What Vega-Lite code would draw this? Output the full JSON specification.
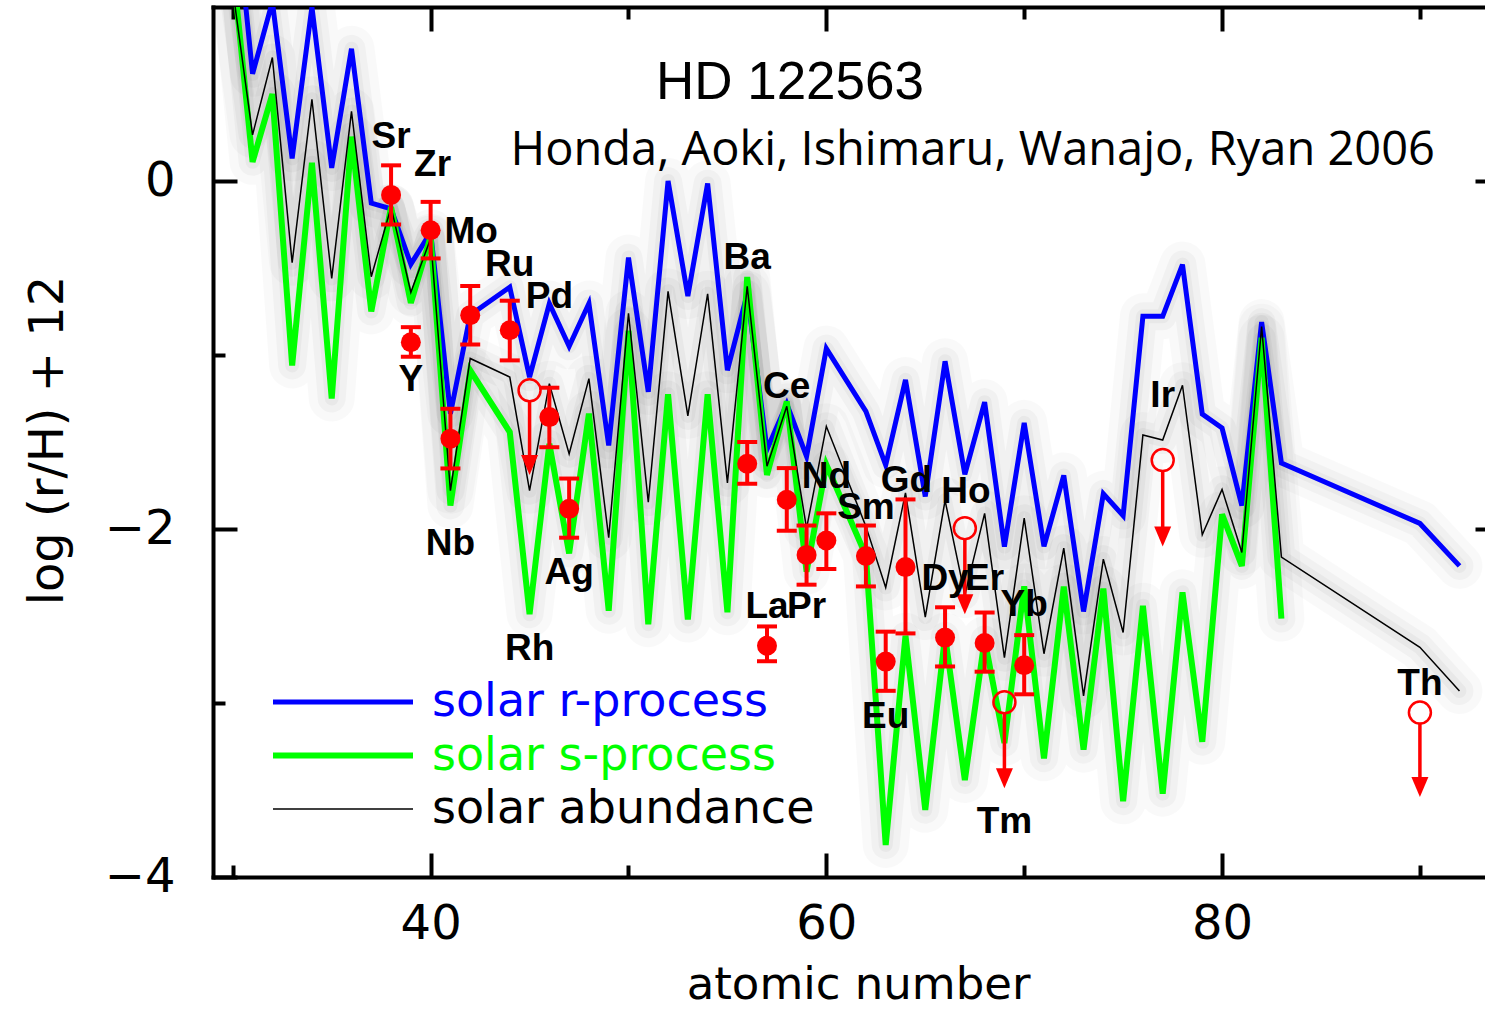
{
  "$schema": "https://vega.github.io/schema/vega-lite/v6.json",
  "width": 1272,
  "height": 870,
  "autosize": {"type": "none"},
  "padding": {"left": 213, "top": 7, "right": 0, "bottom": 134},
  "background": "white",
  "config": {
    "view": {"stroke": null},
    "axis": {"grid": false, "domainColor": "black", "tickColor": "black", "labelColor": "black", "titleColor": "black", "labelFont": "DejaVu Sans", "titleFont": "DejaVu Sans", "titleFontWeight": "normal", "tickWidth": 4, "domainWidth": 4, "domainCap": "square", "labelFlush": false, "labelOverlap": false, "zindex": 1}
  },
  "datasets": {
    "solar": [
      {"s": "solar r-process", "Z": 30, "v": 1.74}, {"s": "solar r-process", "Z": 31, "v": 0.616}, {"s": "solar r-process", "Z": 32, "v": 1.03}, {"s": "solar r-process", "Z": 33, "v": 0.13}, {"s": "solar r-process", "Z": 34, "v": 1.0}, {"s": "solar r-process", "Z": 35, "v": 0.075}, {"s": "solar r-process", "Z": 36, "v": 0.76}, {"s": "solar r-process", "Z": 37, "v": -0.127}, {"s": "solar r-process", "Z": 38, "v": -0.16}, {"s": "solar r-process", "Z": 39, "v": -0.478}, {"s": "solar r-process", "Z": 40, "v": -0.294},
      {"s": "solar r-process", "Z": 41, "v": -1.337}, {"s": "solar r-process", "Z": 42, "v": -0.77}, {"s": "solar r-process", "Z": 44, "v": -0.61}, {"s": "solar r-process", "Z": 45, "v": -1.127}, {"s": "solar r-process", "Z": 46, "v": -0.704}, {"s": "solar r-process", "Z": 47, "v": -0.95}, {"s": "solar r-process", "Z": 48, "v": -0.704}, {"s": "solar r-process", "Z": 49, "v": -1.52}, {"s": "solar r-process", "Z": 50, "v": -0.44},
      {"s": "solar r-process", "Z": 51, "v": -1.212}, {"s": "solar r-process", "Z": 52, "v": 0.0}, {"s": "solar r-process", "Z": 53, "v": -0.661}, {"s": "solar r-process", "Z": 54, "v": -0.014}, {"s": "solar r-process", "Z": 55, "v": -1.088}, {"s": "solar r-process", "Z": 56, "v": -0.648}, {"s": "solar r-process", "Z": 57, "v": -1.543}, {"s": "solar r-process", "Z": 58, "v": -1.281}, {"s": "solar r-process", "Z": 59, "v": -1.583}, {"s": "solar r-process", "Z": 60, "v": -0.963},
      {"s": "solar r-process", "Z": 62, "v": -1.324}, {"s": "solar r-process", "Z": 63, "v": -1.633}, {"s": "solar r-process", "Z": 64, "v": -1.143}, {"s": "solar r-process", "Z": 65, "v": -1.813}, {"s": "solar r-process", "Z": 66, "v": -1.036}, {"s": "solar r-process", "Z": 67, "v": -1.686}, {"s": "solar r-process", "Z": 68, "v": -1.271}, {"s": "solar r-process", "Z": 69, "v": -2.101}, {"s": "solar r-process", "Z": 70, "v": -1.39},
      {"s": "solar r-process", "Z": 71, "v": -2.1}, {"s": "solar r-process", "Z": 72, "v": -1.692}, {"s": "solar r-process", "Z": 73, "v": -2.474}, {"s": "solar r-process", "Z": 74, "v": -1.798}, {"s": "solar r-process", "Z": 75, "v": -1.923}, {"s": "solar r-process", "Z": 76, "v": -0.778}, {"s": "solar r-process", "Z": 77, "v": -0.778}, {"s": "solar r-process", "Z": 78, "v": -0.48}, {"s": "solar r-process", "Z": 79, "v": -1.34}, {"s": "solar r-process", "Z": 80, "v": -1.42},
      {"s": "solar r-process", "Z": 81, "v": -1.865}, {"s": "solar r-process", "Z": 82, "v": -0.811}, {"s": "solar r-process", "Z": 83, "v": -1.621}, {"s": "solar r-process", "Z": 90, "v": -1.968}, {"s": "solar r-process", "Z": 92, "v": -2.212},

      {"s": "solar s-process", "Z": 30, "v": 1.235}, {"s": "solar s-process", "Z": 31, "v": 0.11}, {"s": "solar s-process", "Z": 32, "v": 0.5}, {"s": "solar s-process", "Z": 33, "v": -1.06}, {"s": "solar s-process", "Z": 34, "v": 0.105}, {"s": "solar s-process", "Z": 35, "v": -1.25}, {"s": "solar s-process", "Z": 36, "v": 0.255}, {"s": "solar s-process", "Z": 37, "v": -0.75}, {"s": "solar s-process", "Z": 38, "v": -0.15}, {"s": "solar s-process", "Z": 39, "v": -0.7}, {"s": "solar s-process", "Z": 40, "v": -0.32},
      {"s": "solar s-process", "Z": 41, "v": -1.865}, {"s": "solar s-process", "Z": 42, "v": -1.088}, {"s": "solar s-process", "Z": 44, "v": -1.443}, {"s": "solar s-process", "Z": 45, "v": -2.49}, {"s": "solar s-process", "Z": 46, "v": -1.51}, {"s": "solar s-process", "Z": 47, "v": -2.14}, {"s": "solar s-process", "Z": 48, "v": -1.337}, {"s": "solar s-process", "Z": 49, "v": -2.47}, {"s": "solar s-process", "Z": 50, "v": -0.86},
      {"s": "solar s-process", "Z": 51, "v": -2.547}, {"s": "solar s-process", "Z": 52, "v": -1.226}, {"s": "solar s-process", "Z": 53, "v": -2.52}, {"s": "solar s-process", "Z": 54, "v": -1.226}, {"s": "solar s-process", "Z": 55, "v": -2.479}, {"s": "solar s-process", "Z": 56, "v": -0.552}, {"s": "solar s-process", "Z": 57, "v": -1.689}, {"s": "solar s-process", "Z": 58, "v": -1.267}, {"s": "solar s-process", "Z": 59, "v": -2.245}, {"s": "solar s-process", "Z": 60, "v": -1.63},
      {"s": "solar s-process", "Z": 62, "v": -2.153}, {"s": "solar s-process", "Z": 63, "v": -3.816}, {"s": "solar s-process", "Z": 64, "v": -2.613}, {"s": "solar s-process", "Z": 65, "v": -3.614}, {"s": "solar s-process", "Z": 66, "v": -2.613}, {"s": "solar s-process", "Z": 67, "v": -3.443}, {"s": "solar s-process", "Z": 68, "v": -2.634}, {"s": "solar s-process", "Z": 69, "v": -3.23}, {"s": "solar s-process", "Z": 70, "v": -2.33},
      {"s": "solar s-process", "Z": 71, "v": -3.318}, {"s": "solar s-process", "Z": 72, "v": -2.331}, {"s": "solar s-process", "Z": 73, "v": -3.268}, {"s": "solar s-process", "Z": 74, "v": -2.342}, {"s": "solar s-process", "Z": 75, "v": -3.565}, {"s": "solar s-process", "Z": 76, "v": -2.441}, {"s": "solar s-process", "Z": 77, "v": -3.521}, {"s": "solar s-process", "Z": 78, "v": -2.364}, {"s": "solar s-process", "Z": 79, "v": -3.223}, {"s": "solar s-process", "Z": 80, "v": -1.915},
      {"s": "solar s-process", "Z": 81, "v": -2.212}, {"s": "solar s-process", "Z": 82, "v": -0.901}, {"s": "solar s-process", "Z": 83, "v": -2.515},

      {"s": "solar abundance", "Z": 30, "v": 1.1}, {"s": "solar abundance", "Z": 31, "v": 0.265}, {"s": "solar abundance", "Z": 32, "v": 0.71}, {"s": "solar abundance", "Z": 33, "v": -0.47}, {"s": "solar abundance", "Z": 34, "v": 0.47}, {"s": "solar abundance", "Z": 35, "v": -0.56}, {"s": "solar abundance", "Z": 36, "v": 0.4}, {"s": "solar abundance", "Z": 37, "v": -0.55}, {"s": "solar abundance", "Z": 38, "v": -0.15}, {"s": "solar abundance", "Z": 39, "v": -0.64}, {"s": "solar abundance", "Z": 40, "v": -0.33},
      {"s": "solar abundance", "Z": 41, "v": -1.78}, {"s": "solar abundance", "Z": 42, "v": -1.02}, {"s": "solar abundance", "Z": 44, "v": -1.127}, {"s": "solar abundance", "Z": 45, "v": -1.78}, {"s": "solar abundance", "Z": 46, "v": -1.165}, {"s": "solar abundance", "Z": 47, "v": -1.568}, {"s": "solar abundance", "Z": 48, "v": -1.136}, {"s": "solar abundance", "Z": 49, "v": -2.05}, {"s": "solar abundance", "Z": 50, "v": -0.76},
      {"s": "solar abundance", "Z": 51, "v": -1.846}, {"s": "solar abundance", "Z": 52, "v": -0.634}, {"s": "solar abundance", "Z": 53, "v": -1.35}, {"s": "solar abundance", "Z": 54, "v": -0.648}, {"s": "solar abundance", "Z": 55, "v": -1.735}, {"s": "solar abundance", "Z": 56, "v": -0.606}, {"s": "solar abundance", "Z": 57, "v": -1.639}, {"s": "solar abundance", "Z": 58, "v": -1.295}, {"s": "solar abundance", "Z": 59, "v": -1.997}, {"s": "solar abundance", "Z": 60, "v": -1.41},
      {"s": "solar abundance", "Z": 62, "v": -1.985}, {"s": "solar abundance", "Z": 63, "v": -2.336}, {"s": "solar abundance", "Z": 64, "v": -1.793}, {"s": "solar abundance", "Z": 65, "v": -2.506}, {"s": "solar abundance", "Z": 66, "v": -1.835}, {"s": "solar abundance", "Z": 67, "v": -2.38}, {"s": "solar abundance", "Z": 68, "v": -1.91}, {"s": "solar abundance", "Z": 69, "v": -2.74}, {"s": "solar abundance", "Z": 70, "v": -1.938},
      {"s": "solar abundance", "Z": 71, "v": -2.717}, {"s": "solar abundance", "Z": 72, "v": -2.11}, {"s": "solar abundance", "Z": 73, "v": -2.959}, {"s": "solar abundance", "Z": 74, "v": -2.173}, {"s": "solar abundance", "Z": 75, "v": -2.595}, {"s": "solar abundance", "Z": 76, "v": -1.46}, {"s": "solar abundance", "Z": 77, "v": -1.489}, {"s": "solar abundance", "Z": 78, "v": -1.174}, {"s": "solar abundance", "Z": 79, "v": -2.033}, {"s": "solar abundance", "Z": 80, "v": -1.772},
      {"s": "solar abundance", "Z": 81, "v": -2.135}, {"s": "solar abundance", "Z": 82, "v": -0.837}, {"s": "solar abundance", "Z": 83, "v": -2.161}, {"s": "solar abundance", "Z": 90, "v": -2.68}, {"s": "solar abundance", "Z": 92, "v": -2.931}
    ],
    "measured": [
      {"el": "Sr", "Z": 38, "v": -0.08, "lo": -0.25, "hi": 0.09},
      {"el": "Y", "Z": 39, "v": -0.927, "lo": -1.01, "hi": -0.84},
      {"el": "Zr", "Z": 40, "v": -0.283, "lo": -0.445, "hi": -0.12},
      {"el": "Nb", "Z": 41, "v": -1.481, "lo": -1.652, "hi": -1.309},
      {"el": "Mo", "Z": 42, "v": -0.771, "lo": -0.94, "hi": -0.603},
      {"el": "Ru", "Z": 44, "v": -0.858, "lo": -1.031, "hi": -0.688},
      {"el": "Pd", "Z": 46, "v": -1.357, "lo": -1.53, "hi": -1.188},
      {"el": "Ag", "Z": 47, "v": -1.884, "lo": -2.05, "hi": -1.71},
      {"el": "Ba", "Z": 56, "v": -1.625, "lo": -1.74, "hi": -1.5},
      {"el": "La", "Z": 57, "v": -2.671, "lo": -2.76, "hi": -2.56},
      {"el": "Ce", "Z": 58, "v": -1.832, "lo": -2.01, "hi": -1.65},
      {"el": "Pr", "Z": 59, "v": -2.149, "lo": -2.32, "hi": -1.98},
      {"el": "Nd", "Z": 60, "v": -2.066, "lo": -2.23, "hi": -1.91},
      {"el": "Sm", "Z": 62, "v": -2.155, "lo": -2.33, "hi": -1.98},
      {"el": "Eu", "Z": 63, "v": -2.762, "lo": -2.93, "hi": -2.59},
      {"el": "Gd", "Z": 64, "v": -2.219, "lo": -2.6, "hi": -1.83},
      {"el": "Dy", "Z": 66, "v": -2.624, "lo": -2.79, "hi": -2.45},
      {"el": "Er", "Z": 68, "v": -2.655, "lo": -2.82, "hi": -2.48},
      {"el": "Yb", "Z": 70, "v": -2.783, "lo": -2.95, "hi": -2.61}
    ],
    "limits": [
      {"el": "Rh", "Z": 45, "v": -1.203, "tip": -1.69},
      {"el": "Ho", "Z": 67, "v": -1.995, "tip": -2.49},
      {"el": "Tm", "Z": 69, "v": -2.996, "tip": -3.49},
      {"el": "Ir", "Z": 77, "v": -1.604, "tip": -2.1},
      {"el": "Th", "Z": 90, "v": -3.055, "tip": -3.54}
    ],
    "names": [
      {"el": "Sr", "Z": 38, "v": 0.253}, {"el": "Zr", "Z": 40.1, "v": 0.092}, {"el": "Mo", "Z": 42.05, "v": -0.294},
      {"el": "Ru", "Z": 44, "v": -0.484}, {"el": "Pd", "Z": 46, "v": -0.668}, {"el": "Y", "Z": 39, "v": -1.146},
      {"el": "Nb", "Z": 41, "v": -2.084}, {"el": "Rh", "Z": 45, "v": -2.689}, {"el": "Ag", "Z": 47, "v": -2.251},
      {"el": "Ba", "Z": 56, "v": -0.443}, {"el": "Ce", "Z": 58, "v": -1.186}, {"el": "La", "Z": 57, "v": -2.447},
      {"el": "Pr", "Z": 59, "v": -2.447}, {"el": "Nd", "Z": 60, "v": -1.704}, {"el": "Sm", "Z": 62, "v": -1.877},
      {"el": "Gd", "Z": 64.05, "v": -1.727}, {"el": "Ho", "Z": 67.05, "v": -1.79}, {"el": "Dy", "Z": 66, "v": -2.286},
      {"el": "Er", "Z": 68, "v": -2.286}, {"el": "Yb", "Z": 70, "v": -2.435}, {"el": "Eu", "Z": 63, "v": -3.08},
      {"el": "Tm", "Z": 69, "v": -3.685}, {"el": "Ir", "Z": 77, "v": -1.238}, {"el": "Th", "Z": 90, "v": -2.89}
    ],
    "notes": [
      {"kind": "star", "txt": "HD  122563", "Z": 58.16, "v": 0.565},
      {"kind": "ref", "txt": "Honda, Aoki, Ishimaru, Wanajo, Ryan 2006", "Z": 67.4, "v": 0.175}
    ]
  },
  "resolve": {"axis": {"x": "independent", "y": "independent"}},
  "layer": [
    {
      "data": {"name": "solar"},
      "mark": {"type": "line", "clip": true, "stroke": "black", "strokeOpacity": 0.022, "strokeWidth": 46, "strokeJoin": "round", "strokeCap": "round"},
      "encoding": {
        "x": {"field": "Z", "type": "quantitative", "scale": {"domain": [29, 93.29], "nice": false, "zero": false},
          "axis": {"orient": "bottom", "values": [40, 60, 80], "tickSize": -24, "labelFontSize": 48, "labelPadding": 47, "title": "atomic number", "titleFontSize": 45, "titleX": 645, "titleY": 121, "titleBaseline": "alphabetic"}},
        "y": {"field": "v", "type": "quantitative", "scale": {"domain": [-4, 1], "nice": false, "zero": false},
          "axis": {"orient": "left", "values": [0, -2, -4], "tickSize": -24, "labelFontSize": 48, "labelPadding": 62, "title": "log (r/H) + 12", "titleFontSize": 48, "titleAngle": -90, "titleX": -141, "titleY": 433, "titleBaseline": "bottom"}},
        "detail": {"field": "s", "type": "nominal"}
      }
    },
    {
      "data": {"name": "solar"},
      "mark": {"type": "line", "clip": true, "stroke": "black", "strokeOpacity": 0.03, "strokeWidth": 28, "strokeJoin": "round", "strokeCap": "round"},
      "encoding": {
        "x": {"field": "Z", "type": "quantitative", "scale": {"domain": [29, 93.29], "nice": false, "zero": false},
          "axis": {"orient": "bottom", "values": [30, 50, 70, 90], "tickSize": -12, "labels": false, "domain": false, "title": null}},
        "y": {"field": "v", "type": "quantitative", "scale": {"domain": [-4, 1], "nice": false, "zero": false},
          "axis": {"orient": "left", "values": [-1, -3], "tickSize": -12, "labels": false, "domain": false, "title": null}},
        "detail": {"field": "s", "type": "nominal"}
      }
    },
    {
      "data": {"name": "solar"},
      "mark": {"type": "line", "clip": true, "stroke": "black", "strokeOpacity": 0.035, "strokeWidth": 14, "strokeJoin": "round", "strokeCap": "round"},
      "encoding": {
        "x": {"field": "Z", "type": "quantitative", "scale": {"domain": [29, 93.29], "nice": false, "zero": false}, "axis": null},
        "y": {"field": "v", "type": "quantitative", "scale": {"domain": [-4, 1], "nice": false, "zero": false}, "axis": null},
        "detail": {"field": "s", "type": "nominal"}
      }
    },
    {
      "data": {"name": "solar"},
      "mark": {"type": "line", "clip": true},
      "encoding": {
        "x": {"field": "Z", "type": "quantitative", "scale": {"domain": [29, 93.29], "nice": false, "zero": false},
          "axis": {"orient": "top", "values": [40, 60, 80], "tickSize": -24, "labels": false, "title": null}},
        "y": {"field": "v", "type": "quantitative", "scale": {"domain": [-4, 1], "nice": false, "zero": false},
          "axis": {"orient": "right", "values": [0, -2], "tickSize": -10, "labels": false, "domain": false, "title": null}},
        "color": {"field": "s", "type": "nominal",
          "scale": {"domain": ["solar r-process", "solar s-process", "solar abundance"], "range": ["#0000ff", "#00ff00", "#000000"]},
          "legend": {"title": null, "orient": "none", "legendX": 57, "legendY": 675, "symbolType": "stroke", "symbolSize": 19600, "clipHeight": 40, "rowPadding": 7.5, "labelFont": "DejaVu Sans", "labelFontSize": 46, "labelOffset": 16, "labelLimit": 0, "padding": 0,
            "encode": {"labels": {"update": {"fill": {"scale": "color", "field": "value"}}}}}},
        "strokeWidth": {"field": "s", "type": "nominal",
          "scale": {"type": "ordinal", "domain": ["solar r-process", "solar s-process", "solar abundance"], "range": [5, 6, 1.5]},
          "legend": {"title": null, "orient": "none", "legendX": 57, "legendY": 675, "symbolType": "stroke", "symbolSize": 19600, "clipHeight": 40, "rowPadding": 7.5, "labelFont": "DejaVu Sans", "labelFontSize": 46, "labelOffset": 16, "labelLimit": 0, "padding": 0,
            "encode": {"labels": {"update": {"fill": {"scale": "color", "field": "value"}}}}}}
      }
    },
    {
      "data": {"name": "measured"},
      "mark": {"type": "rule", "color": "#ff0000", "strokeWidth": 4},
      "encoding": {
        "x": {"field": "Z", "type": "quantitative", "scale": {"domain": [29, 93.29], "nice": false, "zero": false},
          "axis": {"orient": "top", "values": [30, 50, 70, 90], "tickSize": -12, "labels": false, "domain": false, "title": null}},
        "y": {"field": "lo", "type": "quantitative", "scale": {"domain": [-4, 1], "nice": false, "zero": false}, "axis": null},
        "y2": {"field": "hi"}
      }
    },
    {
      "data": {"name": "measured"},
      "mark": {"type": "tick", "orient": "horizontal", "color": "#ff0000", "size": 20, "thickness": 4, "opacity": 1},
      "encoding": {
        "x": {"field": "Z", "type": "quantitative", "scale": {"domain": [29, 93.29], "nice": false, "zero": false}, "axis": null},
        "y": {"field": "lo", "type": "quantitative", "scale": {"domain": [-4, 1], "nice": false, "zero": false}, "axis": null}
      }
    },
    {
      "data": {"name": "measured"},
      "mark": {"type": "tick", "orient": "horizontal", "color": "#ff0000", "size": 20, "thickness": 4, "opacity": 1},
      "encoding": {
        "x": {"field": "Z", "type": "quantitative", "scale": {"domain": [29, 93.29], "nice": false, "zero": false}, "axis": null},
        "y": {"field": "hi", "type": "quantitative", "scale": {"domain": [-4, 1], "nice": false, "zero": false}, "axis": null}
      }
    },
    {
      "data": {"name": "measured"},
      "mark": {"type": "point", "shape": "circle", "filled": true, "color": "#ff0000", "size": 400, "opacity": 1},
      "encoding": {
        "x": {"field": "Z", "type": "quantitative", "scale": {"domain": [29, 93.29], "nice": false, "zero": false}, "axis": null},
        "y": {"field": "v", "type": "quantitative", "scale": {"domain": [-4, 1], "nice": false, "zero": false}, "axis": null}
      }
    },
    {
      "data": {"name": "limits"},
      "mark": {"type": "rule", "color": "#ff0000", "strokeWidth": 3.5, "yOffset": 11, "y2Offset": -14},
      "encoding": {
        "x": {"field": "Z", "type": "quantitative", "scale": {"domain": [29, 93.29], "nice": false, "zero": false}, "axis": null},
        "y": {"field": "v", "type": "quantitative", "scale": {"domain": [-4, 1], "nice": false, "zero": false}, "axis": null},
        "y2": {"field": "tip"}
      }
    },
    {
      "data": {"name": "limits"},
      "mark": {"type": "point", "shape": "circle", "filled": false, "stroke": "#ff0000", "strokeWidth": 2.5, "size": 484, "opacity": 1},
      "encoding": {
        "x": {"field": "Z", "type": "quantitative", "scale": {"domain": [29, 93.29], "nice": false, "zero": false}, "axis": null},
        "y": {"field": "v", "type": "quantitative", "scale": {"domain": [-4, 1], "nice": false, "zero": false}, "axis": null}
      }
    },
    {
      "data": {"name": "limits"},
      "mark": {"type": "point", "shape": "M -0.85 -1 L 0.85 -1 L 0 1 Z", "filled": true, "color": "#ff0000", "size": 400, "opacity": 1, "yOffset": -10},
      "encoding": {
        "x": {"field": "Z", "type": "quantitative", "scale": {"domain": [29, 93.29], "nice": false, "zero": false}, "axis": null},
        "y": {"field": "tip", "type": "quantitative", "scale": {"domain": [-4, 1], "nice": false, "zero": false}, "axis": null}
      }
    },
    {
      "data": {"name": "names"},
      "mark": {"type": "text", "font": "Liberation Sans", "fontWeight": "bold", "fontSize": 37, "color": "black", "align": "center", "baseline": "middle"},
      "encoding": {
        "x": {"field": "Z", "type": "quantitative", "scale": {"domain": [29, 93.29], "nice": false, "zero": false}, "axis": null},
        "y": {"field": "v", "type": "quantitative", "scale": {"domain": [-4, 1], "nice": false, "zero": false}, "axis": null},
        "text": {"field": "el", "type": "nominal"}
      }
    },
    {
      "data": {"name": "notes"},
      "transform": [{"filter": "datum.kind === 'star'"}],
      "mark": {"type": "text", "font": "Liberation Sans", "fontSize": 53, "color": "black", "align": "center", "baseline": "middle"},
      "encoding": {
        "x": {"field": "Z", "type": "quantitative", "scale": {"domain": [29, 93.29], "nice": false, "zero": false}, "axis": null},
        "y": {"field": "v", "type": "quantitative", "scale": {"domain": [-4, 1], "nice": false, "zero": false}, "axis": null},
        "text": {"field": "txt", "type": "nominal"}
      }
    },
    {
      "data": {"name": "notes"},
      "transform": [{"filter": "datum.kind === 'ref'"}],
      "mark": {"type": "text", "font": "Open Sans", "fontSize": 47, "color": "black", "align": "center", "baseline": "middle"},
      "encoding": {
        "x": {"field": "Z", "type": "quantitative", "scale": {"domain": [29, 93.29], "nice": false, "zero": false}, "axis": null},
        "y": {"field": "v", "type": "quantitative", "scale": {"domain": [-4, 1], "nice": false, "zero": false}, "axis": null},
        "text": {"field": "txt", "type": "nominal"}
      }
    }
  ]
}
